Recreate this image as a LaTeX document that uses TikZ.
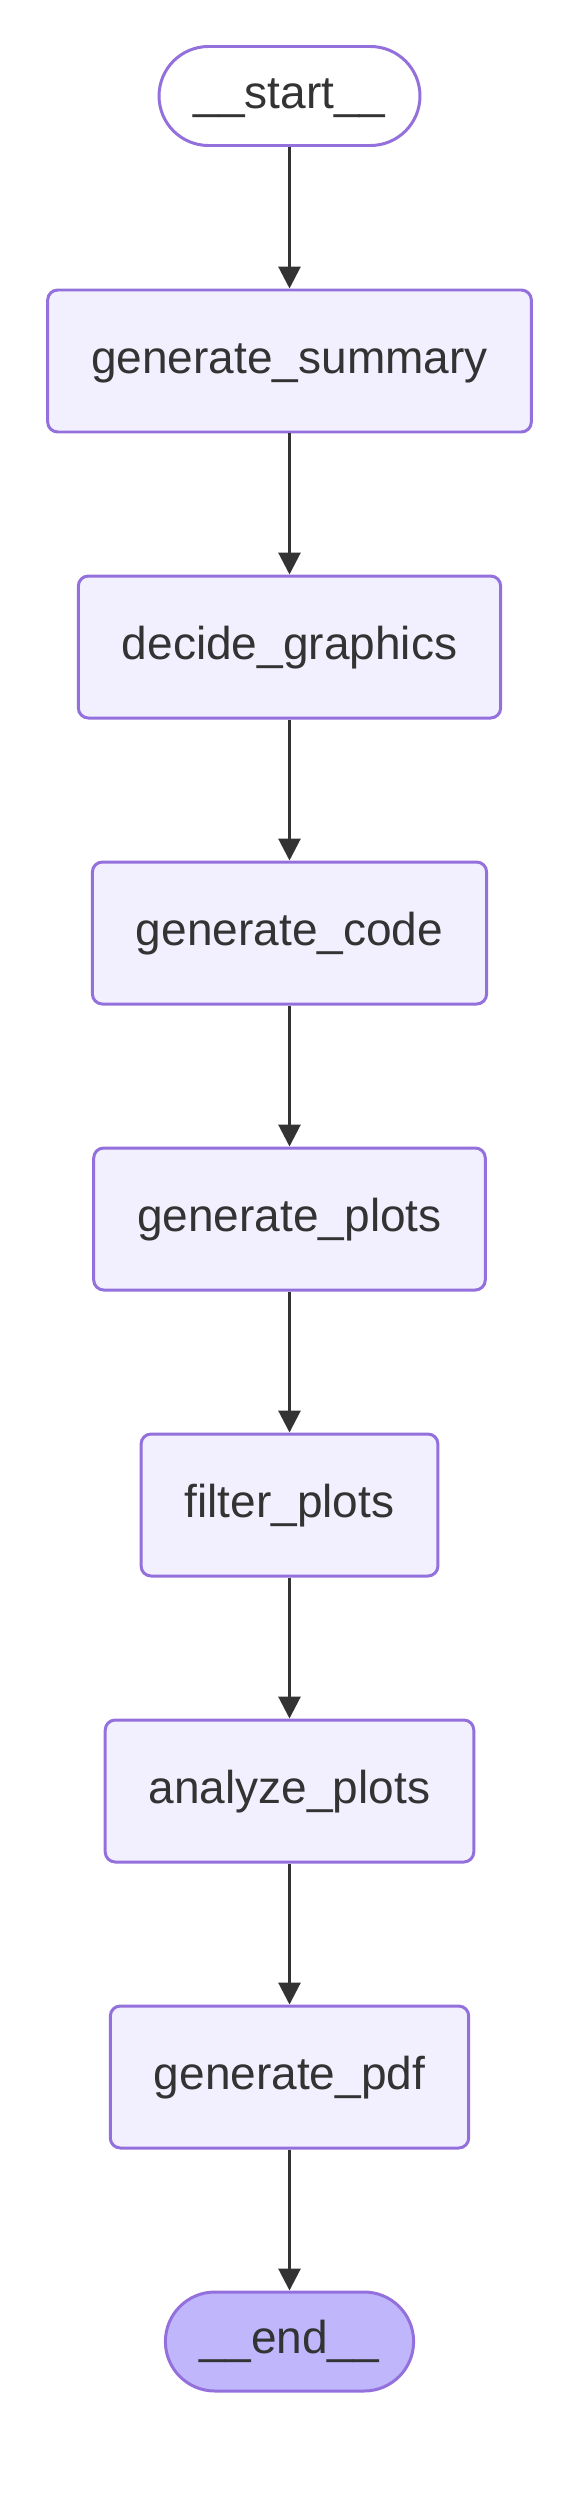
\documentclass[tikz,border=0pt]{standalone}
\usepackage{fontspec}
\setmainfont{Liberation Sans}
\usepackage{xcolor}
\usepackage{tikz}
\usetikzlibrary{arrows.meta}
\definecolor{ink}{HTML}{333333}
\definecolor{rim}{HTML}{9370DB}
\definecolor{boxFill}{HTML}{F2F0FF}
\definecolor{endFill}{HTML}{BFB6FC}
\tikzset{
  lab/.style={text=ink, font=\fontsize{13.1pt}{15pt}\selectfont, text height=0.9em, text depth=0.2em},
  stepBox/.style={lab, draw=rim, fill=boxFill, line width=0.85pt, rounded corners=0.1cm,
    minimum height=1.42cm, inner xsep=0.435cm, inner ysep=0pt},
  termPill/.style={lab, draw=rim, line width=0.85pt, rounded corners=0.495cm,
    minimum height=0.99cm, inner xsep=0.345cm, inner ysep=0pt},
  flow/.style={draw=ink, line width=0.85pt, -{Triangle[width=0.22cm,length=0.22cm]}}
}
\begin{document}
\begin{tikzpicture}
\useasboundingbox (0,0) rectangle (5.79,-25.14);
% terminals
\node[termPill, fill=white] (start) at (2.895,-0.96) {\_\_start\_\_};
\node[termPill, fill=endFill] (end) at (2.895,-23.415) {\_\_end\_\_};

% steps
\node[stepBox] (summary) at (2.895,-3.61) {generate\_summary};
\node[stepBox] (graphics) at (2.895,-6.47) {decide\_graphics};
\node[stepBox] (code) at (2.895,-9.33) {generate\_code};
\node[stepBox] (plots) at (2.895,-12.19) {generate\_plots};
\node[stepBox] (filter) at (2.895,-15.05) {filter\_plots};
\node[stepBox] (analyze) at (2.895,-17.91) {analyze\_plots};
\node[stepBox] (pdf) at (2.895,-20.77) {generate\_pdf};

% edges
\draw[flow] (start) -- (summary);
\draw[flow] (summary) -- (graphics);
\draw[flow] (graphics) -- (code);
\draw[flow] (code) -- (plots);
\draw[flow] (plots) -- (filter);
\draw[flow] (filter) -- (analyze);
\draw[flow] (analyze) -- (pdf);
\draw[flow] (pdf) -- (end);
\end{tikzpicture}
\end{document}
